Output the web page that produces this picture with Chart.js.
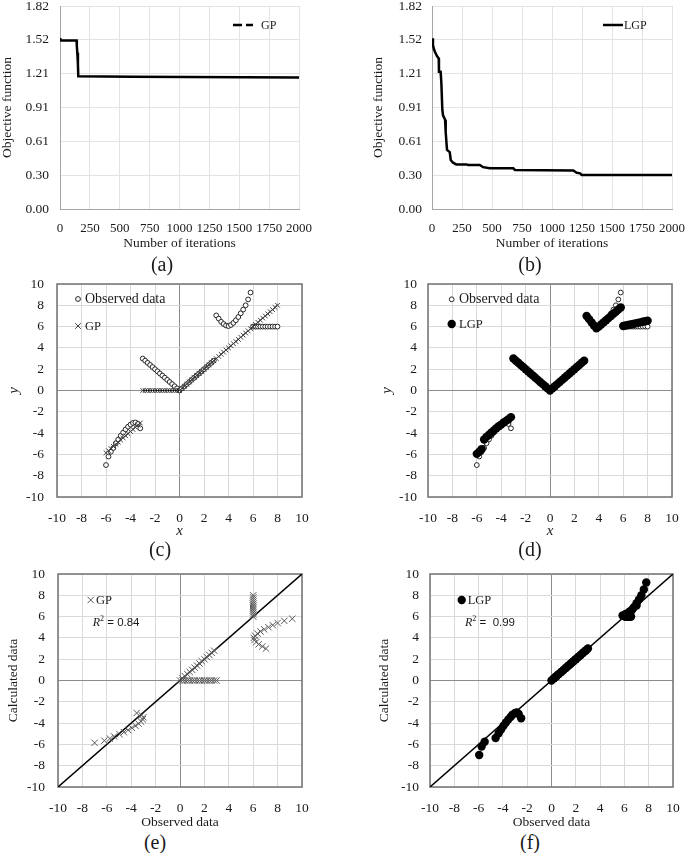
<!DOCTYPE html>
<html lang="en">
<head>
<meta charset="UTF-8">
<title>GP vs LGP</title>
<script src="https://cdn.jsdelivr.net/npm/chart.js@4.4.1/dist/chart.umd.min.js"></script>
<style>
  body { margin: 0; background: #fff; }
  .fig { position: relative; width: 685px; height: 853px; overflow: hidden; font-family: "Liberation Serif", serif; color: #1a1a1a; }
  .fig canvas { position: absolute; }
  .lbl { position: absolute; font-size: 20px; transform: translate(-50%, -50%); white-space: nowrap; }
</style>
</head>
<body>
<div class="fig">
  <canvas id="cA"></canvas>
  <canvas id="cB"></canvas>
  <canvas id="cC"></canvas>
  <canvas id="cD"></canvas>
  <canvas id="cE"></canvas>
  <canvas id="cF"></canvas>
  <div class="lbl" style="left:162px;top:264px">(a)</div>
  <div class="lbl" style="left:530px;top:264px">(b)</div>
  <div class="lbl" style="left:160px;top:549px">(c)</div>
  <div class="lbl" style="left:530px;top:549px">(d)</div>
  <div class="lbl" style="left:155px;top:842px">(e)</div>
  <div class="lbl" style="left:530px;top:842px">(f)</div>
</div>
<script>
// convergence histories
const iterGP = [0, 10, 139, 141, 145, 150, 153, 600, 2000];
const objGP  = [1.53, 1.51, 1.51, 1.46, 1.40, 1.30, 1.19, 1.185, 1.18];
const iterLGP = [0, 8, 17, 28, 42, 56, 58, 72, 78, 86, 92, 109, 114, 125, 148, 156, 175, 203, 287, 301,
                 398, 426, 482, 677, 691, 1178, 1206, 1234, 1248, 2000];
const objLGP  = [1.53, 1.47, 1.43, 1.40, 1.37, 1.35, 1.23, 1.23, 1.13, 0.89, 0.84, 0.80, 0.69, 0.53, 0.51, 0.44, 0.415, 0.40, 0.40, 0.395,
                 0.395, 0.375, 0.365, 0.365, 0.35, 0.345, 0.325, 0.32, 0.305, 0.305];
const objTicks = ['0.00', '0.30', '0.61', '0.91', '1.21', '1.52', '1.82'];

// test function: input x, observed y, GP and LGP predictions
const xIn = [-6.0, -5.8, -5.6, -5.4, -5.2, -5.0, -4.8, -4.6, -4.4, -4.2, -4.0, -3.8, -3.6, -3.4, -3.2,
             -3.0, -2.8, -2.6, -2.4, -2.2, -2.0, -1.8, -1.6, -1.4, -1.2, -1.0, -0.8, -0.6, -0.4, -0.2,
             0.0, 0.2, 0.4, 0.6, 0.8, 1.0, 1.2, 1.4, 1.6, 1.8, 2.0, 2.2, 2.4, 2.6, 2.8,
             3.0, 3.2, 3.4, 3.6, 3.8, 4.0, 4.2, 4.4, 4.6, 4.8, 5.0, 5.2, 5.4, 5.6, 5.8,
             6.0, 6.2, 6.4, 6.6, 6.8, 7.0, 7.2, 7.4, 7.6, 7.8, 8.0];
const yObs = [-7.0, -6.2, -5.75, -5.4, -4.95, -4.6, -4.25, -3.95, -3.65, -3.4, -3.2, -3.05, -3.0, -3.15, -3.55,
              3.0, 2.8, 2.6, 2.4, 2.2, 2.0, 1.8, 1.6, 1.4, 1.2, 1.0, 0.8, 0.6, 0.4, 0.2,
              0.0, 0.2, 0.4, 0.6, 0.8, 1.0, 1.2, 1.4, 1.6, 1.8, 2.0, 2.2, 2.4, 2.6, 2.8,
              7.05, 6.75, 6.45, 6.25, 6.1, 6.05, 6.15, 6.35, 6.6, 6.9, 7.25, 7.6, 8.0, 8.55, 9.2,
              6.0, 6.0, 6.0, 6.0, 6.0, 6.0, 6.0, 6.0, 6.0, 6.0, 6.0];
const yGP = [-5.85, -5.65, -5.45, -5.25, -5.05, -4.85, -4.65, -4.45, -4.25, -4.05, -3.85, -3.65, -3.45, -3.25, -3.05,
             0, 0, 0, 0, 0, 0, 0, 0, 0, 0, 0, 0, 0, 0, 0,
             0.0, 0.2, 0.4, 0.6, 0.8, 1.0, 1.2, 1.4, 1.6, 1.8, 2.0, 2.2, 2.4, 2.6, 2.8,
             3.0, 3.2, 3.4, 3.6, 3.8, 4.0, 4.2, 4.4, 4.6, 4.8, 5.0, 5.2, 5.4, 5.6, 5.8,
             6.0, 6.2, 6.4, 6.6, 6.8, 7.0, 7.2, 7.4, 7.6, 7.8, 8.0];
const yLGP = [-5.95, -5.75, -5.5, -4.6, -4.35, -4.15, -3.95, -3.75, -3.55, -3.35, -3.2, -3.0, -2.85, -2.7, -2.5,
              3.0, 2.8, 2.6, 2.4, 2.2, 2.0, 1.8, 1.6, 1.4, 1.2, 1.0, 0.8, 0.6, 0.4, 0.2,
              0.0, 0.2, 0.4, 0.6, 0.8, 1.0, 1.2, 1.4, 1.6, 1.8, 2.0, 2.2, 2.4, 2.6, 2.8,
              7.0, 6.7, 6.4, 6.1, 5.85, 6.0, 6.2, 6.4, 6.6, 6.8, 7.0, 7.2, 7.4, 7.6, 7.8,
              6.05, 6.1, 6.15, 6.2, 6.25, 6.3, 6.35, 6.4, 6.45, 6.5, 6.55];
const lineX = [-10, 10];
const lineY = [-10, 10];

const pts = (xs, ys) => xs.map((x, i) => ({ x: x, y: ys[i] }));

const SERIF = '"Liberation Serif", serif';
const INK = '#1a1a1a';

// full grey frame round the plot area
const framePlugin = {
  id: 'frame',
  beforeDatasetsDraw(chart, args, opts) {
    if (!opts.show) return;
    const a = chart.chartArea, ctx = chart.ctx;
    ctx.save();
    ctx.strokeStyle = '#7a7a7a';
    ctx.lineWidth = 1.6;
    ctx.strokeRect(a.left, a.top, a.right - a.left, a.bottom - a.top);
    ctx.restore();
  }
};

// legend boxes drawn inside the plot
const keyPlugin = {
  id: 'key',
  afterDraw(chart, args, opts) {
    const a = chart.chartArea, ctx = chart.ctx;
    ctx.save();
    ctx.textAlign = 'left';
    ctx.textBaseline = 'middle';
    (opts.items || []).forEach(it => {
      const y = a.top + it.dy;
      if (it.mark === 'line') {
        ctx.strokeStyle = '#000';
        ctx.lineWidth = 2.5;
        ctx.setLineDash(it.dash || []);
        ctx.beginPath();
        ctx.moveTo(a.left + it.x0, y);
        ctx.lineTo(a.left + it.x1, y);
        ctx.stroke();
        ctx.setLineDash([]);
      } else {
        ctx.fillStyle = it.fill;
        ctx.strokeStyle = it.stroke;
        Chart.helpers.drawPoint(ctx, { pointStyle: it.mark, rotation: 0, radius: it.r, borderWidth: it.bw }, a.left + it.dx, y);
      }
      ctx.fillStyle = INK;
      ctx.font = it.size + 'px ' + SERIF;
      ctx.fillText(it.text, a.left + it.tx, y + 0.5);
    });
    if (opts.r2) {
      let x = a.left + opts.r2.dx;
      const y = a.top + opts.r2.dy;
      ctx.fillStyle = INK;
      ctx.font = 'italic 12px ' + SERIF;
      ctx.fillText('R', x, y);
      x += ctx.measureText('R').width;
      ctx.font = '8px ' + SERIF;
      ctx.fillText('2', x, y - 4);
      x += ctx.measureText('2').width;
      ctx.font = '11.5px "Liberation Sans", sans-serif';
      ctx.fillText(opts.r2.text, x, y);
    }
    ctx.restore();
  }
};

function makeChart(id, box, datasets, scales, plugins) {
  const cv = document.getElementById(id);
  cv.width = box.W;
  cv.height = box.H;
  cv.style.left = box.L + 'px';
  cv.style.top = box.T + 'px';
  const [cl, ct, cr, cb] = box.area;
  scales.x.afterFit = s => { s.height = box.T + box.H - cb; s.paddingLeft = 0; s.paddingRight = 0; };
  scales.y.afterFit = s => { s.width = cl - box.L; s.paddingTop = 0; s.paddingBottom = 0; };
  return new Chart(cv, {
    type: 'scatter',
    data: { datasets: datasets },
    options: {
      responsive: false,
      animation: false,
      events: [],
      layout: { padding: { left: 0, top: ct - box.T, right: box.L + box.W - cr, bottom: 0 } },
      scales: scales,
      plugins: Object.assign({ legend: { display: false }, tooltip: { enabled: false } }, plugins)
    },
    plugins: [framePlugin, keyPlugin]
  });
}

function tickFont(size) { return { family: SERIF, size: size }; }

function iterScales(box, yPad, titleX, titleY) {
  const lh = 13.5;
  return {
    x: {
      type: 'linear', min: 0, max: 2000,
      ticks: { stepSize: 250, autoSkip: false, callback: v => String(v), color: INK, font: tickFont(13), padding: 11.5, maxRotation: 0 },
      grid: { color: '#e3e3e3', drawTicks: false },
      border: { color: '#a6a6a6' },
      title: { display: true, text: 'Number of iterations', color: INK, font: { family: SERIF, size: 13.5, lineHeight: 1 },
               padding: { top: 0, bottom: box.T + box.H - titleY - lh / 2 } }
    },
    y: {
      type: 'linear', min: 0, max: 1.82,
      afterBuildTicks: s => { s.ticks = objTicks.map((t, i) => ({ value: i * 1.82 / 6 })); },
      ticks: { autoSkip: false, callback: (v, i) => objTicks[i], color: INK, font: tickFont(13.5), padding: yPad },
      grid: { color: '#e3e3e3', drawTicks: false },
      border: { color: '#a6a6a6' },
      title: { display: true, text: 'Objective function', color: INK, font: { family: SERIF, size: 13.5, lineHeight: 1 },
               padding: { top: titleX - box.L - lh / 2, bottom: 0 } }
    }
  };
}

function xyScales(box, xText, yText, italic, yPad, titleX, titleY) {
  const size = italic ? 15 : 13.5;
  const tf = { family: SERIF, size: size, lineHeight: 1, style: italic ? 'italic' : 'normal' };
  const grid = { color: c => c.tick && c.tick.value === 0 ? '#8c8c8c' : '#d9d9d9', drawTicks: false };
  return {
    x: {
      type: 'linear', min: -10, max: 10,
      ticks: { stepSize: 2, autoSkip: false, color: INK, font: tickFont(13.5), padding: 13, maxRotation: 0 },
      grid: grid, border: { display: false },
      title: { display: true, text: xText, color: INK, font: tf, padding: { top: 0, bottom: box.T + box.H - titleY - size / 2 } }
    },
    y: {
      type: 'linear', min: -10, max: 10,
      ticks: { stepSize: 2, autoSkip: false, color: INK, font: tickFont(13.5), padding: yPad },
      grid: grid, border: { display: false },
      title: { display: true, text: yText, color: INK, font: tf, padding: { top: titleX - box.L - size / 2, bottom: 0 } }
    }
  };
}

const boxA = { L: 0,   T: 0,   W: 340, H: 256, area: [60, 6, 299, 209] };
const boxB = { L: 345, T: 0,   W: 340, H: 256, area: [432, 6, 672, 209] };
const boxC = { L: 0,   T: 270, W: 340, H: 275, area: [57, 284, 302, 497] };
const boxD = { L: 345, T: 270, W: 340, H: 275, area: [428, 284, 672, 497] };
const boxE = { L: 0,   T: 560, W: 340, H: 270, area: [58, 574, 302, 787] };
const boxF = { L: 345, T: 560, W: 340, H: 270, area: [430, 574, 673, 787] };

const curve = (xs, ys) => ({ data: pts(xs, ys), showLine: true, borderColor: '#000', borderWidth: 2.5, pointRadius: 0, tension: 0 });

const observed = () => ({
  data: pts(xIn, yObs), pointStyle: 'circle', pointRadius: 2.4, pointBorderWidth: 1,
  pointBorderColor: '#262626', pointBackgroundColor: '#fff', showLine: false, order: 1
});

const diagonal = () => ({ data: pts(lineX, lineY), showLine: true, borderColor: '#000', borderWidth: 1.5, pointRadius: 0, order: 2 });

// (a) GP convergence
makeChart('cA', boxA, [curve(iterGP, objGP)], iterScales(boxA, 11, 7, 243.5), {
  frame: { show: false },
  key: { items: [{ mark: 'line', x0: 173, x1: 193, dash: [9, 4], dy: 19, text: 'GP', tx: 201, size: 12 }] }
});

// (b) LGP convergence
makeChart('cB', boxB, [curve(iterLGP, objLGP)], iterScales(boxB, 10, 378, 243.5), {
  frame: { show: false },
  key: { items: [{ mark: 'line', x0: 171, x1: 191, dy: 19, text: 'LGP', tx: 192, size: 12 }] }
});

// (c) GP fit against the test function
makeChart('cC', boxC, [
  {
    data: pts(xIn, yGP), showLine: true, borderColor: '#000', borderWidth: 1,
    segment: { borderColor: c => Math.abs(c.p1.parsed.y - c.p0.parsed.y) > 1 ? 'rgba(0,0,0,0)' : '#000' },
    pointStyle: 'crossRot', pointRadius: 3.3, pointBorderWidth: 1, pointBorderColor: '#404040', order: 0
  },
  observed()
], xyScales(boxC, 'x', 'y', true, 13, 14, 531.5), {
  frame: { show: true },
  key: { items: [
    { mark: 'circle', dx: 21, dy: 15, r: 2.4, bw: 1, fill: '#fff', stroke: '#262626', text: 'Observed data', tx: 28, size: 14 },
    { mark: 'crossRot', dx: 21, dy: 42, r: 4, bw: 1, fill: '#404040', stroke: '#404040', text: 'GP', tx: 28, size: 12.5 }
  ] }
});

// (d) LGP fit against the test function
makeChart('cD', boxD, [
  { data: pts(xIn, yLGP), pointStyle: 'circle', pointRadius: 4.2, pointBorderWidth: 0, pointBackgroundColor: '#000', showLine: false, order: 0 },
  observed()
], xyScales(boxD, 'x', 'y', true, 11, 387.5, 531.5), {
  frame: { show: true },
  key: { items: [
    { mark: 'circle', dx: 23.7, dy: 15.3, r: 2.4, bw: 1, fill: '#fff', stroke: '#262626', text: 'Observed data', tx: 31, size: 14 },
    { mark: 'circle', dx: 23.7, dy: 40, r: 4.2, bw: 0, fill: '#000', stroke: '#000', text: 'LGP', tx: 31, size: 12.5 }
  ] }
});

// (e) GP observed vs calculated
makeChart('cE', boxE, [
  { data: pts(yObs, yGP), pointStyle: 'crossRot', pointRadius: 4.5, pointBorderWidth: 1, pointBorderColor: '#595959', showLine: false, order: 0 },
  diagonal()
], xyScales(boxE, 'Observed data', 'Calculated data', false, 13, 13, 822), {
  frame: { show: true },
  key: {
    items: [{ mark: 'crossRot', dx: 32.7, dy: 26, r: 4.5, bw: 1, fill: '#595959', stroke: '#595959', text: 'GP', tx: 38, size: 12.5 }],
    r2: { dx: 34.7, dy: 48.7, text: ' = 0.84' }
  }
});

// (f) LGP observed vs calculated
makeChart('cF', boxF, [
  { data: pts(yLGP, yObs), pointStyle: 'circle', pointRadius: 4.2, pointBorderWidth: 0, pointBackgroundColor: '#000', showLine: false, order: 0 },
  diagonal()
], xyScales(boxF, 'Observed data', 'Calculated data', false, 11, 384, 822), {
  frame: { show: true },
  key: {
    items: [{ mark: 'circle', dx: 31.7, dy: 26, r: 4.2, bw: 0, fill: '#000', stroke: '#000', text: 'LGP', tx: 37.7, size: 12.5 }],
    r2: { dx: 35, dy: 48.7, text: ' =  0.99' }
  }
});
</script>
</body>
</html>
